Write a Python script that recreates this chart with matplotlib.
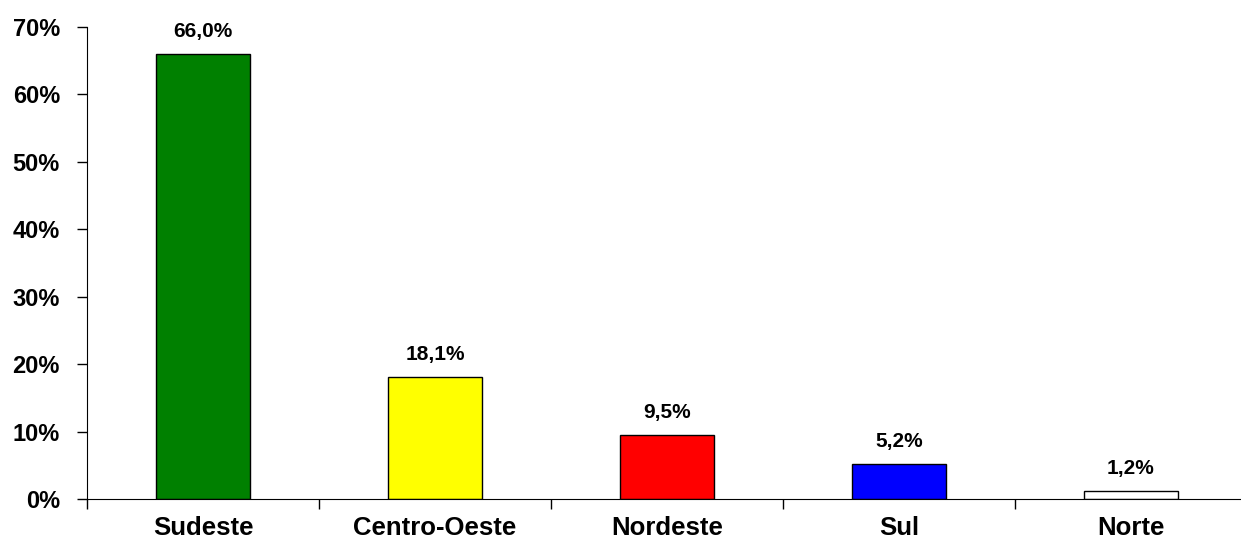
import numpy as np
import matplotlib
matplotlib.use("Agg")
import matplotlib.pyplot as plt
from matplotlib.ticker import FuncFormatter

regioes = ["Sudeste", "Centro-Oeste", "Nordeste", "Sul", "Norte"]
valores = [66.0, 18.1, 9.5, 5.2, 1.2]
cores = ["#008000", "#FFFF00", "#FF0000", "#0000FF", "#FFFFFF"]

plt.rcParams['font.family'] = ['Liberation Sans', 'DejaVu Sans']
plt.rcParams['font.weight'] = 'bold'

fig = plt.figure(figsize=(12.41, 5.39), dpi=100)
ax = fig.add_axes([87/1241, 1-499/539, 1160/1241, 472/539])

x = np.arange(len(regioes))
ax.bar(x, valores, width=0.405, color=cores, edgecolor="black", linewidth=1)

for xi, v in zip(x, valores):
    ax.annotate(f"{v:.1f}%".replace(".", ","), (xi, v), xytext=(0, 9),
                textcoords="offset points", ha="center", va="bottom",
                fontsize=15, fontweight="bold")

ax.set_xlim(-0.5, len(regioes) - 0.5)
ax.set_ylim(0, 70)
ax.set_yticks(np.arange(0, 71, 10))
ax.yaxis.set_major_formatter(FuncFormatter(lambda v, p: f"{v:.0f}%"))
ax.set_xticks(np.arange(-0.5, len(regioes), 1))
ax.set_xticklabels([])
ax.set_xticks(x, minor=True)
ax.set_xticklabels(regioes, minor=True)
ax.tick_params(axis="x", which="minor", length=0, pad=12, labelsize=18.5)
ax.tick_params(axis="x", which="major", length=7, direction="out", width=1)
ax.tick_params(axis="y", length=7, direction="out", width=1, labelsize=17, pad=12.5)
for lab in ax.get_xticklabels(minor=True) + ax.get_yticklabels():
    lab.set_fontweight("bold")

ax.spines["top"].set_visible(False)
ax.spines["right"].set_visible(False)

fig.savefig("out.png", dpi=100)
